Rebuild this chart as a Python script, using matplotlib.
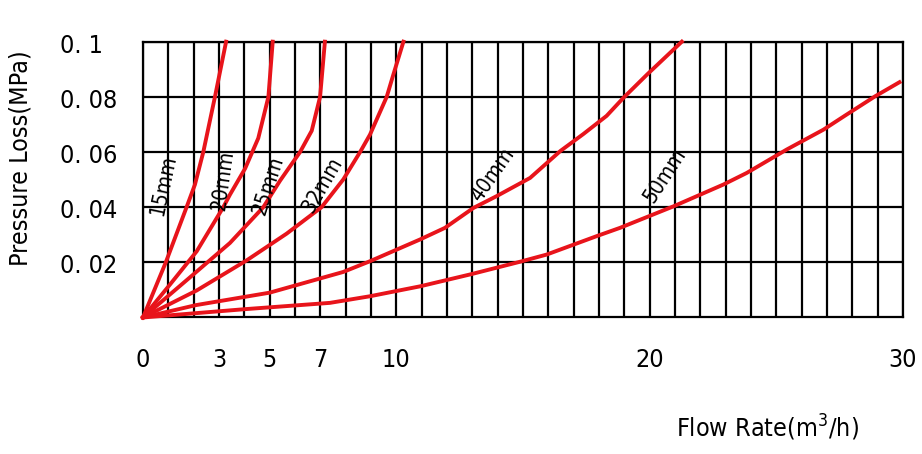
import matplotlib.pyplot as plt
import matplotlib.transforms as mtransforms
from matplotlib.ticker import MultipleLocator

plt.rcParams["font.family"] = ["DejaVu Sans"]
plt.rcParams["font.stretch"] = "condensed"

# readings: flow rate (m3/h) vs pressure loss (MPa)
q_15 = [0, 0.9, 1.72, 2.05, 2.38, 2.84, 3.28]
p_15 = [0, 0.02, 0.04, 0.0482, 0.06, 0.08, 0.1]

q_20 = [0, 1.07, 2.12, 3.17, 3.43, 4.03, 4.55, 4.95, 5.12]
p_20 = [0, 0.012, 0.024, 0.04, 0.0445, 0.054, 0.065, 0.08, 0.1]

q_25 = [0, 1.86, 3.43, 4.75, 5.41, 6.2, 6.66, 6.99, 7.18]
p_25 = [0, 0.0146, 0.027, 0.04, 0.0496, 0.06, 0.0677, 0.08, 0.1]

q_32 = [0, 2.12, 4.09, 5.67, 7.05, 7.91, 8.57, 8.96, 9.62, 9.88, 10.28]
p_32 = [0, 0.0098, 0.0207, 0.0304, 0.04, 0.0501, 0.06, 0.0663, 0.08, 0.088, 0.1]

q_40 = [0, 2.1, 5.0, 7.9, 8.96, 10.94, 11.92, 13.04, 13.96, 15.28,
        16.48, 17.38, 18.3, 18.96, 19.91, 21.27]
p_40 = [0, 0.0045, 0.009, 0.0165, 0.0204, 0.0283, 0.0325, 0.0397, 0.044,
        0.0506, 0.0604, 0.0665, 0.0731, 0.0796, 0.0882, 0.1]

q_50 = [0, 4.0, 7.38, 8.96, 10.94, 12.91, 14.88, 15.93, 17.91, 18.83,
        20.94, 22.91, 23.83, 25.41, 26.86, 27.78, 28.9, 29.86]
p_50 = [0, 0.003, 0.0053, 0.0077, 0.0113, 0.0156, 0.0202, 0.0228, 0.0295,
        0.0325, 0.0403, 0.0482, 0.0524, 0.0609, 0.0681, 0.0736, 0.0802, 0.0853]

curves = [
    ("15mm", q_15, p_15, (0.79, 0.048), 78),
    ("20mm", q_20, p_20, (3.16, 0.0499), 82),
    ("25mm", q_25, p_25, (4.93, 0.048), 72),
    ("32mm", q_32, p_32, (7.07, 0.048), 60),
    ("40mm", q_40, p_40, (13.78, 0.0517), 55),
    ("50mm", q_50, p_50, (20.6, 0.0517), 57),
]

x_ticks = [0, 3, 5, 7, 10, 20, 30]
y_ticks = [0.02, 0.04, 0.06, 0.08, 0.1]
y_labels = ["0. 02", "0. 04", "0. 06", "0. 08", "0. 1"]

fig = plt.figure(figsize=(9.22, 4.54), dpi=100)
ax = fig.add_axes([0.1551, 0.3007, 0.8243, 0.6075])

ax.set_xlim(0, 30)
ax.set_ylim(0, 0.1)
ax.xaxis.set_minor_locator(MultipleLocator(1))
ax.yaxis.set_major_locator(MultipleLocator(0.02))
ax.grid(True, which="both", axis="x", color="black", lw=1.6)
ax.grid(True, which="major", axis="y", color="black", lw=1.6)
for s in ax.spines.values():
    s.set_linewidth(1.6)

for name, q, p, pos, rot in curves:
    ax.plot(q, p, color="#e8141b", lw=2.8, zorder=3, clip_on=False,
            solid_joinstyle="round")
    ax.text(pos[0], pos[1], name, rotation=rot, fontsize=15,
            ha="center", va="center", zorder=4)

ax.set_xticks(x_ticks)
ax.set_xticklabels([str(v) for v in x_ticks], fontsize=18)
ax.tick_params(axis="x", which="both", length=0, pad=22)

ax.set_yticks(y_ticks)
ax.set_yticklabels(y_labels, fontsize=18, ha="left", va="center")
ax.tick_params(axis="y", length=0, pad=60)
shift = mtransforms.ScaledTranslation(0, -4 / 100, fig.dpi_scale_trans)
for lbl in ax.get_yticklabels():
    lbl.set_transform(lbl.get_transform() + shift)

fig.text(0.022, 1 - 158 / 454, "Pressure Loss(MPa)", rotation=90,
         fontsize=18, ha="center", va="center")
fig.text(0.832, 1 - 428 / 454, "Flow Rate(m$^3$/h)", fontsize=18,
         ha="center", va="center")

plt.savefig("out.png")
plt.close()
